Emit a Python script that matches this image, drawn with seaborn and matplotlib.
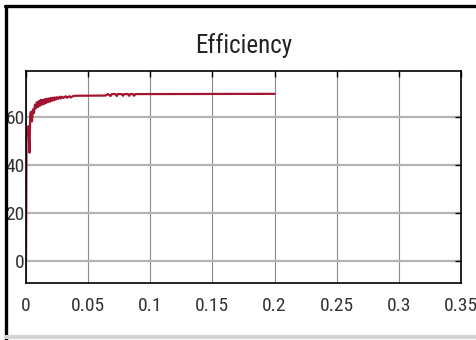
import matplotlib
matplotlib.use('Agg')
import matplotlib.pyplot as plt
import seaborn as sns
import pandas as pd
from matplotlib.lines import Line2D

# simulation time (s) and efficiency (%)
time_s = [0, 0.0004, 0.0012, 0.002, 0.0028, 0.0034, 0.004, 0.0048, 0.0056, 0.0064,
          0.0072, 0.008, 0.0088, 0.0096, 0.0104, 0.0112, 0.012, 0.0128, 0.0136, 0.0144,
          0.0152, 0.016, 0.0168, 0.0176, 0.0184, 0.0192, 0.02, 0.0208, 0.0216, 0.0224,
          0.0232, 0.024, 0.0248, 0.026, 0.027, 0.028, 0.029, 0.03, 0.032, 0.033,
          0.035, 0.036, 0.038, 0.04, 0.064, 0.066, 0.068, 0.069, 0.072, 0.073,
          0.074, 0.077, 0.078, 0.079, 0.082, 0.083, 0.084, 0.086, 0.087, 0.088, 0.2]
efficiency = [0, 54, 52, 56, 45, 61, 62, 58, 63, 61.5,
              65, 63.5, 66, 64, 66.5, 64.5, 67, 65, 67, 65.2,
              67.3, 65.6, 67.5, 66, 67.6, 66.2, 67.8, 66.6, 67.9, 66.8,
              68, 67.1, 68.1, 67.4, 68.3, 67.6, 68.3, 67.8, 68.5, 67.9,
              68.5, 68.0, 68.6, 68.7, 68.8, 69.4, 68.6, 69.4, 69.4, 68.6,
              69.4, 69.4, 68.7, 69.4, 69.4, 68.7, 69.4, 69.4, 68.7, 69.4, 69.5]

x_ticks = [0, 0.05, 0.1, 0.15, 0.2, 0.25, 0.3, 0.35]
x_labels = ['0', '0.05', '0.1', '0.15', '0.2', '0.25', '0.3', '0.35']
y_ticks = [0, 20, 40, 60]

df = pd.DataFrame({'t': time_s, 'eff': efficiency})

sns.set_style('white')
plt.rcParams['font.family'] = ['Liberation Sans Narrow', 'Roboto Condensed', 'Archivo Narrow', 'Liberation Sans']

fig = plt.figure(figsize=(4.77, 3.4), dpi=100)
ax = fig.add_axes([0.0545, 0.168, 0.912, 0.623])

sns.lineplot(data=df, x='t', y='eff', ax=ax, color='#A2142F', linewidth=1.6,
             estimator=None, sort=False)

ax.set_xlim(0, 0.35)
ax.set_ylim(-9.3, 79)
ax.set_xticks(x_ticks)
ax.set_xticklabels(x_labels)
ax.set_yticks(y_ticks)
ax.set_xlabel('')
ax.set_ylabel('')

# matlab-ish grid: darker thin verticals, lighter thick horizontals
ax.grid(True, axis='x', color='#8c8c8c', linewidth=0.8)
ax.grid(True, axis='y', color='#b4b4b4', linewidth=1.6)
ax.set_axisbelow(True)

for s in ax.spines.values():
    s.set_color('black')
    s.set_linewidth(1.2)
ax.tick_params(direction='in', length=4, width=1, top=True, right=True,
               labelsize=14, colors='black')
ax.tick_params(axis='x', pad=10)
ax.tick_params(axis='y', pad=1)
for lab in ax.get_xticklabels() + ax.get_yticklabels():
    lab.set_color('#333333')

fig.text(0.51, 0.866, 'Efficiency', ha='center', va='center', fontsize=18, color='#222222')

# window frame
fig.add_artist(Line2D([0.013, 0.013], [0.0, 0.983], color='black', lw=2.4))
fig.add_artist(Line2D([0.011, 1.0], [0.983, 0.983], color='black', lw=2.4))
fig.add_artist(Line2D([0.013, 1.0], [0.009, 0.009], color='#d4d4d4', lw=3))

fig.savefig('out.png', dpi=100)
